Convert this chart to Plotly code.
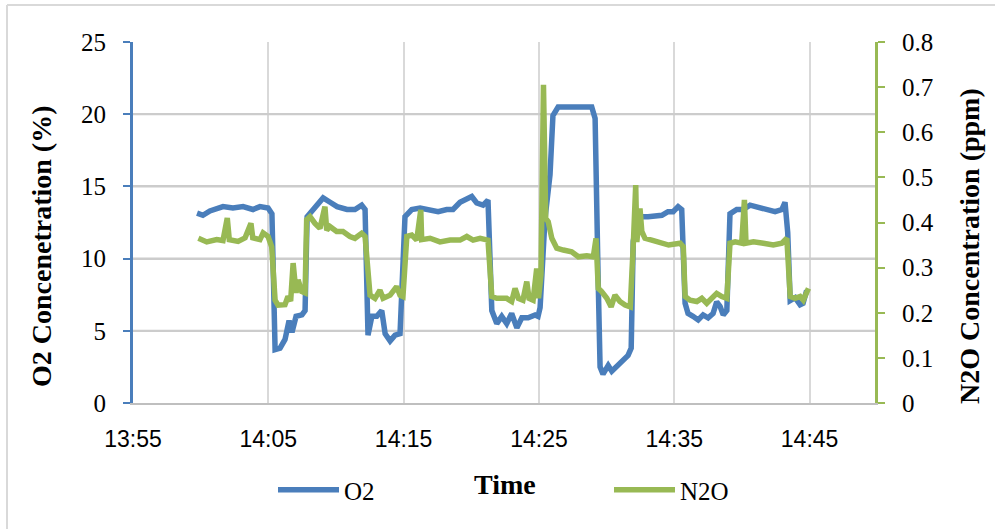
import plotly.graph_objects as go
import pandas as pd

DAY = "2000-01-01 "

o2_time = ["13:59:44","14:00:10","14:00:41","14:01:39","14:02:23","14:03:08","14:03:52","14:04:23","14:04:59","14:05:16",
           "14:05:30","14:05:52","14:06:14","14:06:32","14:06:45","14:07:03","14:07:29","14:07:43","14:07:52","14:08:18",
           "14:08:40","14:09:03","14:09:34","14:10:05","14:10:49","14:11:24","14:11:54","14:12:09","14:12:22","14:12:39",
           "14:13:01","14:13:23","14:13:38","14:14:00","14:14:22","14:14:44","14:15:06","14:15:36","14:16:13","14:16:57",
           "14:17:33","14:18:11","14:18:39","14:19:10","14:19:32","14:20:02","14:20:24","14:20:52","14:21:14","14:21:31",
           "14:21:53","14:22:15","14:22:37","14:22:59","14:23:22","14:23:44","14:24:12","14:24:43","14:24:56","14:25:05",
           "14:25:27","14:25:49","14:26:02","14:26:25","14:28:54","14:29:09","14:29:22","14:29:31","14:29:44","14:30:07",
           "14:30:23","14:30:45","14:31:13","14:31:35","14:31:49","14:31:58","14:32:14","14:32:36","14:33:04","14:33:35",
           "14:34:05","14:34:32","14:34:55","14:35:17","14:35:33","14:35:48","14:36:01","14:36:23","14:36:46","14:37:08",
           "14:37:30","14:37:52","14:38:08","14:38:23","14:38:37","14:38:53","14:39:07","14:39:37","14:40:05","14:40:36",
           "14:41:06","14:41:50","14:42:27","14:42:57","14:43:11","14:43:23","14:43:34","14:43:56","14:44:18","14:44:31",
           "14:44:47"]
o2_vals = [13.15, 13.0, 13.3, 13.6, 13.5, 13.6, 13.4, 13.6, 13.5, 13.1,
           3.7, 3.8, 4.4, 5.7, 4.9, 6.0, 6.1, 6.4, 12.9, 13.4,
           13.7, 14.2, 13.9, 13.6, 13.4, 13.4, 13.7, 13.4, 4.7, 6.0,
           6.0, 6.4, 4.8, 4.3, 4.7, 4.8, 12.9, 13.4, 13.5, 13.4,
           13.25, 13.4, 13.4, 13.9, 14.05, 14.3, 13.85, 13.7, 14.05, 6.4,
           5.5, 6.0, 5.5, 6.2, 5.2, 5.9, 5.9, 6.1, 6.0, 6.6,
           12.8, 15.8, 19.9, 20.5, 20.5, 19.7, 8.9, 2.5, 2.0, 2.6,
           2.2, 2.5, 2.9, 3.3, 3.8, 11.2, 12.6, 12.9, 12.9, 13.0,
           13.0, 13.25, 13.25, 13.6, 13.4, 6.9, 6.2, 6.0, 5.75, 6.1,
           5.9, 6.2, 7.0, 6.7, 6.1, 6.4, 13.1, 13.4, 13.4, 13.7,
           13.6, 13.4, 13.25, 13.4, 13.9, 11.8, 7.1, 7.3, 6.8, 6.9,
           7.8]

n2o_time = ["13:59:50","14:00:27","14:01:11","14:01:39","14:01:58","14:02:07","14:02:46","14:03:17","14:03:43","14:03:51",
            "14:04:23","14:04:37","14:04:59","14:05:15","14:05:30","14:05:43","14:06:14","14:06:27","14:06:39","14:06:50",
            "14:07:03","14:07:12","14:07:28","14:07:43","14:07:50","14:08:05","14:08:27","14:08:49","14:09:11","14:09:19",
            "14:09:33","14:10:03","14:10:31","14:11:02","14:11:24","14:11:54","14:12:09","14:12:31","14:12:53","14:13:15",
            "14:13:29","14:14:00","14:14:29","14:14:44","14:14:57","14:15:14","14:15:36","14:15:58","14:16:16","14:16:20",
            "14:16:57","14:17:41","14:18:26","14:19:10","14:19:40","14:20:08","14:20:39","14:21:14","14:21:31","14:21:53",
            "14:22:37","14:22:59","14:23:14","14:23:29","14:23:49","14:24:06","14:24:16","14:24:34","14:24:50","14:24:58",
            "14:25:09","14:25:20","14:25:30","14:25:41","14:25:57","14:26:19","14:26:48","14:27:25","14:27:55","14:28:32",
            "14:29:01","14:29:13","14:29:23","14:29:38","14:30:01","14:30:20","14:30:37","14:30:59","14:31:22","14:31:45",
            "14:31:59","14:32:09","14:32:14","14:32:28","14:32:36","14:32:50","14:33:20","14:34:05","14:34:35","14:35:26",
            "14:35:40","14:35:48","14:36:10","14:36:40","14:37:02","14:37:24","14:37:46","14:38:08","14:38:31","14:38:53",
            "14:39:07","14:39:30","14:39:59","14:40:11","14:40:18","14:40:51","14:41:35","14:42:19","14:42:57","14:43:19",
            "14:43:34","14:43:56","14:44:18","14:44:32","14:44:55"]
n2o_vals = [0.365, 0.357, 0.362, 0.360, 0.410, 0.362, 0.358, 0.366, 0.398, 0.366,
            0.362, 0.377, 0.369, 0.346, 0.228, 0.217, 0.218, 0.236, 0.226, 0.310,
            0.244, 0.273, 0.247, 0.244, 0.406, 0.413, 0.398, 0.387, 0.435, 0.383,
            0.391, 0.380, 0.380, 0.369, 0.365, 0.376, 0.369, 0.239, 0.232, 0.250,
            0.232, 0.239, 0.258, 0.239, 0.236, 0.369, 0.372, 0.361, 0.428, 0.362,
            0.365, 0.357, 0.361, 0.361, 0.369, 0.361, 0.365, 0.361, 0.236, 0.232,
            0.232, 0.225, 0.254, 0.232, 0.228, 0.269, 0.232, 0.228, 0.298, 0.232,
            0.284, 0.705, 0.409, 0.402, 0.365, 0.343, 0.339, 0.335, 0.324, 0.326,
            0.324, 0.365, 0.254, 0.247, 0.232, 0.213, 0.239, 0.225, 0.217, 0.213,
            0.360, 0.483, 0.357, 0.431, 0.380, 0.365, 0.361, 0.354, 0.350, 0.354,
            0.346, 0.236, 0.228, 0.225, 0.232, 0.221, 0.232, 0.243, 0.236, 0.232,
            0.354, 0.357, 0.354, 0.450, 0.354, 0.357, 0.354, 0.350, 0.354, 0.365,
            0.236, 0.232, 0.236, 0.228, 0.254]

x_ticks = ["13:55", "14:05", "14:15", "14:25", "14:35", "14:45"]
o2_ticks = [0, 5, 10, 15, 20, 25]
n2o_ticks = [0, 0.1, 0.2, 0.3, 0.4, 0.5, 0.6, 0.7, 0.8]
x_range = [DAY + "13:55:00", DAY + "14:49:50"]

BLUE = "#4A7EBB"
GREEN = "#98B954"
GRID = "#D9D9D9"
HGRID = "#CCCCCC"
SERIF = "Liberation Serif, Times New Roman, serif"
SANS = "Liberation Sans, Arial, sans-serif"

W, H = 995, 529
L, R, T, B = 133, 120, 42, 126
pw, ph = W - L - R, H - T - B


def px(x):
    return (x - L) / pw


def py(y):
    return (H - B - y) / ph


o2_t = pd.to_datetime([DAY + t for t in o2_time])
n2o_t = pd.to_datetime([DAY + t for t in n2o_time])

fig = go.Figure()
# horizontal gridlines at the O2 tick values, one thin trace per value, beneath the data
for v in o2_ticks[1:-1]:
    fig.add_trace(go.Scatter(x=[x_range[0], x_range[1]], y=[v, v], mode="lines",
                             showlegend=False, hoverinfo="skip",
                             line=dict(color=HGRID, width=2)))
fig.add_trace(go.Scatter(x=o2_t, y=o2_vals, name="O2", mode="lines",
                         line=dict(color=BLUE, width=5.5), legend="legend", showlegend=True))
fig.add_trace(go.Scatter(x=n2o_t, y=n2o_vals, name="N2O", mode="lines",
                         line=dict(color=GREEN, width=5.5), yaxis="y2", legend="legend2", showlegend=True))

fig.update_layout(
    width=W, height=H, autosize=False,
    margin=dict(l=L, r=R, t=T, b=B),
    paper_bgcolor="white", plot_bgcolor="white",
    xaxis=dict(type="date", range=x_range,
               tickmode="array", tickvals=[DAY + t for t in x_ticks], ticktext=x_ticks,
               showgrid=True, gridcolor=GRID, gridwidth=1.5,
               showline=True, linecolor="#BFBFBF", linewidth=1.5,
               ticks="", zeroline=False,
               tickfont=dict(family=SANS, size=23, color="black"),
               ticklabelstandoff=15),
    yaxis=dict(range=[0, 25], tickmode="array", tickvals=o2_ticks,
               showgrid=True, gridcolor=HGRID, gridwidth=2,
               showline=True, linecolor=BLUE, linewidth=3,
               ticks="outside", ticklen=7, tickwidth=2, tickcolor=BLUE,
               zeroline=False,
               tickfont=dict(family=SERIF, size=25, color="black"),
               ticklabelstandoff=12),
    yaxis2=dict(range=[0, 0.8], tickmode="array", tickvals=n2o_ticks,
                overlaying="y", side="right",
                showgrid=False, showline=True, linecolor=GREEN, linewidth=3,
                ticks="outside", ticklen=7, tickwidth=2, tickcolor=GREEN,
                zeroline=False,
                tickfont=dict(family=SERIF, size=25, color="black"),
                ticklabelstandoff=12),
    legend=dict(x=px(273), y=py(490), xanchor="left", yanchor="middle",
                orientation="h", itemwidth=61, bgcolor="rgba(0,0,0,0)",
                font=dict(family=SERIF, size=25, color="black")),
    legend2=dict(x=px(609), y=py(490), xanchor="left", yanchor="middle",
                 orientation="h", itemwidth=61, bgcolor="rgba(0,0,0,0)",
                 font=dict(family=SERIF, size=25, color="black")),
    showlegend=True,
)

fig.add_annotation(text="<b>O2 Concenetration (%)</b>", x=px(42), y=py(246),
                   xref="paper", yref="paper", showarrow=False, textangle=-90,
                   xanchor="center", yanchor="middle",
                   font=dict(family=SERIF, size=28, color="black"))
fig.add_annotation(text="<b>N2O Concentration (ppm)</b>", x=px(970), y=py(246),
                   xref="paper", yref="paper", showarrow=False, textangle=-90,
                   xanchor="center", yanchor="middle",
                   font=dict(family=SERIF, size=28, color="black"))
fig.add_annotation(text="<b>Time</b>", x=px(505), y=py(484),
                   xref="paper", yref="paper", showarrow=False,
                   xanchor="center", yanchor="middle",
                   font=dict(family=SERIF, size=28, color="black"))

fig.add_shape(type="line", xref="paper", yref="paper", x0=px(7), x1=px(7), y0=py(5), y1=py(529),
              line=dict(color=GRID, width=2))
fig.add_shape(type="line", xref="paper", yref="paper", x0=px(7), x1=px(995), y0=py(5), y1=py(5),
              line=dict(color=GRID, width=2))

fig.write_html("out.html", config={"displayModeBar": False},
               post_script="document.body.style.margin='0';document.body.style.padding='0';")
